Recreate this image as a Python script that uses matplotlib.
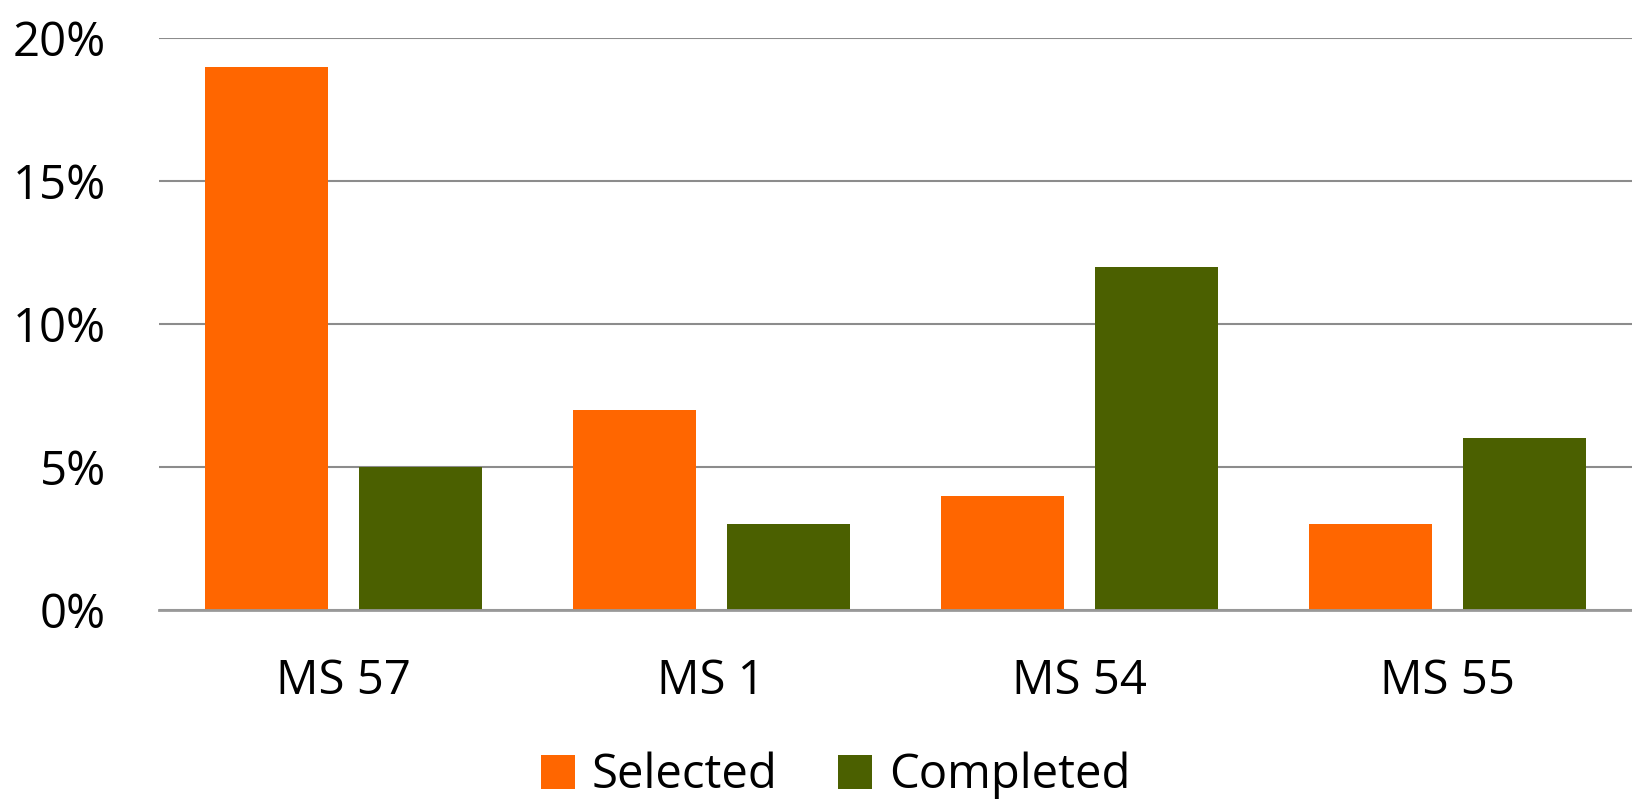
import matplotlib
matplotlib.use("Agg")
import matplotlib.pyplot as plt
import numpy as np

# chart data
categories = ["MS 57", "MS 1", "MS 54", "MS 55"]
selected = [19, 7, 4, 3]
completed = [5, 3, 12, 6]
y_ticks = [0, 5, 10, 15, 20]
y_labels = ["0%", "5%", "10%", "15%", "20%"]

orange = "#FF6600"
green = "#4B6000"

plt.rcParams["font.family"] = ["Open Sans", "DejaVu Sans"]

fig = plt.figure(figsize=(16.32, 8.01), dpi=100)
ax = fig.add_axes([0.0974, 0.2385, 0.9026, 0.7141])

x = np.arange(len(categories))
width = 0.334
offset = 0.209
ax.bar(x - offset, selected, width, color=orange, label="Selected", zorder=3)
ax.bar(x + offset, completed, width, color=green, label="Completed", zorder=3)

ax.set_xlim(-0.5, len(categories) - 0.5)
ax.set_ylim(0, 20)
ax.set_yticks(y_ticks)
ax.set_yticklabels(y_labels)
ax.set_xticks(x)
ax.set_xticklabels(categories)

ax.yaxis.grid(True, color="#8c8c8c", linewidth=1.5, zorder=0)
ax.set_axisbelow(True)
for side in ["top", "right", "left"]:
    ax.spines[side].set_visible(False)
ax.spines["bottom"].set_color("#999999")
ax.spines["bottom"].set_linewidth(2)
ax.spines["bottom"].set_zorder(4)

ax.tick_params(axis="y", length=0, pad=38, labelsize=34)
ax.tick_params(axis="x", length=0, pad=34, labelsize=34)

fig.legend(loc="lower center", bbox_to_anchor=(0.512, -0.039), ncol=2,
           frameon=False, fontsize=34, handlelength=0.72, handleheight=0.72,
           handletextpad=0.35, columnspacing=1.3, borderpad=0.2)

fig.savefig("out.png", dpi=100)
